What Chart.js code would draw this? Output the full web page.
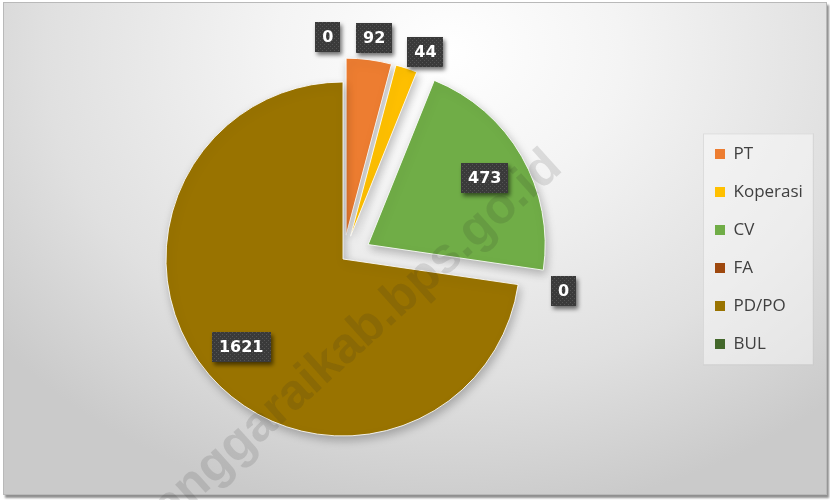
<!DOCTYPE html>
<html>
<head>
<meta charset="utf-8">
<script src="https://cdn.jsdelivr.net/npm/chart.js@4.4.0/dist/chart.umd.min.js"></script>
<style>
  html, body { margin: 0; padding: 0; background: #ffffff; }
  #frame { position: absolute; left: 0; top: 0; width: 830px; height: 500px; overflow: hidden; }
  #bg {
    position: absolute; left: 3px; top: 2px; width: 822px; height: 491px;
    border: 1px solid #b9b9b9;
    box-shadow: 2px 3px 2px #8f8f8f;
    background: radial-gradient(ellipse 70% 95% at 54% 10%, #ffffff 0%, #f4f4f4 30%, #e0e0e0 70%, #cacaca 100%);
  }
  canvas { position: absolute; left: -8px; top: 0; }
</style>
</head>
<body>
<div id="frame">
  <div id="bg"></div>
  <canvas id="myChart" width="830" height="500"></canvas>
</div>
<script>
const categories = ['PT', 'Koperasi', 'CV', 'FA', 'PD/PO', 'BUL'];
const values = [92, 44, 473, 0, 1621, 0];
const colors = ['#ED7D31', '#FFC000', '#70AD47', '#9E480E', '#997300', '#43682B'];
const explode = [24, 24, 29, 0, 0, 0];

const PIE_RADIUS = 177;
const LEGEND_FONT = "17px 'Open Sans', sans-serif";

// work out right padding so the legend sits where it should
const mctx = document.createElement('canvas').getContext('2d');
mctx.font = LEGEND_FONT;
const longest = Math.max(...categories.map(c => mctx.measureText(c).width));
const legendLeft = 702;
const padRight = Math.max(0, 830 - (legendLeft + 21 + 10 + 8.5 + longest + 10));

// exploded slices, drawn with the library's own arc elements
const explodePlugin = {
    id: 'explode',
    beforeDatasetDraw(chart, args) {
        const ctx = chart.ctx;
        args.meta.data.forEach((arc, i) => {
            const mid = (arc.startAngle + arc.endAngle) / 2;
            const d = explode[i] || 0;
            ctx.save();
            ctx.shadowColor = 'rgba(0,0,0,0.25)';
            ctx.shadowBlur = 10;
            ctx.shadowOffsetX = 2;
            ctx.shadowOffsetY = 4;
            ctx.translate(Math.cos(mid) * d, Math.sin(mid) * d);
            arc.draw(ctx, chart.chartArea);
            ctx.restore();
        });
        return false;
    }
};

const legendBoxPlugin = {
    id: 'legendBox',
    beforeDraw(chart) {
        const lg = chart.legend;
        if (!lg || !lg.legendHitBoxes || !lg.legendHitBoxes.length) return;
        const boxes = lg.legendHitBoxes;
        const first = boxes[0], last = boxes[boxes.length - 1];
        const right = Math.max(...boxes.map(b => b.left + b.width));
        const ctx = chart.ctx;
        ctx.save();
        ctx.fillStyle = 'rgba(250,250,250,0.5)';
        ctx.strokeStyle = 'rgba(200,200,200,0.5)';
        const x = first.left - 12, y = first.top - 12;
        const w = right + 10 - x, h = last.top + last.height + 12 - y;
        ctx.fillRect(x, y, w, h);
        ctx.strokeRect(x + 0.5, y + 0.5, w, h);
        ctx.restore();
    }
};

let pattern = null;
function labelPattern(ctx) {
    if (pattern) return pattern;
    const pc = document.createElement('canvas');
    pc.width = 4; pc.height = 4;
    const p = pc.getContext('2d');
    p.fillStyle = '#3a3a3a';
    p.fillRect(0, 0, 4, 4);
    p.fillStyle = '#545454';
    p.fillRect(0, 0, 1, 1);
    p.fillRect(2, 2, 1, 1);
    pattern = ctx.createPattern(pc, 'repeat');
    return pattern;
}

const valueLabelPlugin = {
    id: 'valueLabels',
    afterDatasetsDraw(chart) {
        const ctx = chart.ctx;
        const meta = chart.getDatasetMeta(0);

        // watermark
        ctx.save();
        ctx.translate(572, 170);
        ctx.rotate(-42 * Math.PI / 180);
        ctx.font = "bold 50px 'Liberation Sans', Arial, sans-serif";
        ctx.fillStyle = 'rgba(40,40,40,0.13)';
        ctx.textAlign = 'right';
        ctx.textBaseline = 'alphabetic';
        ctx.fillText('manggaraikab.bps.go.id', 0, 0);
        ctx.restore();

        ctx.save();
        ctx.font = "bold 16px 'DejaVu Sans', sans-serif";
        const TAU = Math.PI * 2;
        const items = meta.data.map((arc, i) => {
            let n = (arc.startAngle + arc.endAngle) / 2 + Math.PI / 2;
            n = ((n % TAU) + TAU) % TAU;
            if (n > TAU - 0.001) n -= TAU;
            return {
                i: i,
                arc: arc,
                text: String(values[i]),
                w: ctx.measureText(String(values[i])).width + 14,
                h: 30,
                ang: n,
                inside: arc.circumference > 0.5
            };
        });

        const place = (it) => {
            const a = it.arc;
            if (it.inside) {
                const r = explode[it.i] + a.outerRadius * 0.76;
                it.x = a.x + Math.sin(it.ang) * r;
                it.y = a.y - Math.cos(it.ang) * r;
            } else {
                const r = a.outerRadius + 46;
                it.x = a.x + Math.sin(it.ang) * r;
                it.y = a.y - Math.cos(it.ang) * r;
            }
        };

        const outside = items.filter(it => !it.inside).sort((p, q) => p.ang - q.ang);
        const gap = 14, step = 0.3 * Math.PI / 180;
        for (let iter = 0; iter < 300; iter++) {
            let moved = false;
            outside.forEach(place);
            for (let k = 0; k < outside.length - 1; k++) {
                const p = outside[k], q = outside[k + 1];
                if (Math.abs(p.x - q.x) < (p.w + q.w) / 2 + gap && Math.abs(p.y - q.y) < (p.h + q.h) / 2 + gap) {
                    p.ang -= step; q.ang += step; moved = true;
                }
            }
            if (!moved) break;
        }
        items.forEach(place);

        const pat = labelPattern(ctx);
        items.forEach(it => {
            const x = it.x - it.w / 2, y = it.y - it.h / 2;
            ctx.save();
            ctx.shadowColor = 'rgba(0,0,0,0.55)';
            ctx.shadowBlur = 4;
            ctx.shadowOffsetX = 2;
            ctx.shadowOffsetY = 3;
            ctx.fillStyle = pat;
            ctx.fillRect(Math.round(x), Math.round(y), Math.round(it.w), it.h);
            ctx.restore();
            ctx.fillStyle = '#ffffff';
            ctx.textAlign = 'center';
            ctx.textBaseline = 'middle';
            ctx.fillText(it.text, it.x, it.y + 1);
        });
        ctx.restore();
    }
};

function createChart() {
    const ctx = document.getElementById('myChart').getContext('2d');
    const baseLabels = Chart.controllers.doughnut.overrides.plugins.legend.labels.generateLabels;

    new Chart(ctx, {
        type: 'pie',
        data: {
            labels: categories,
            datasets: [{
                data: values,
                backgroundColor: colors,
                borderColor: 'rgba(255,255,255,0.85)',
                borderWidth: 1
            }]
        },
        options: {
            responsive: false,
            animation: false,
            radius: PIE_RADIUS,
            layout: {
                padding: { left: 0, top: 18, right: padRight, bottom: 0 }
            },
            plugins: {
                tooltip: { enabled: false },
                legend: {
                    position: 'right',
                    align: 'start',
                    title: { display: true, text: '', padding: { top: 92, bottom: 0 } },
                    labels: {
                        boxWidth: 10,
                        boxHeight: 10,
                        padding: 21,
                        color: '#404040',
                        font: { family: "'Open Sans', sans-serif", size: 17 },
                        generateLabels(chart) {
                            return baseLabels(chart).map(l => Object.assign(l, { lineWidth: 0 }));
                        }
                    }
                }
            }
        },
        plugins: [legendBoxPlugin, explodePlugin, valueLabelPlugin]
    });
}
createChart();
</script>
</body>
</html>
